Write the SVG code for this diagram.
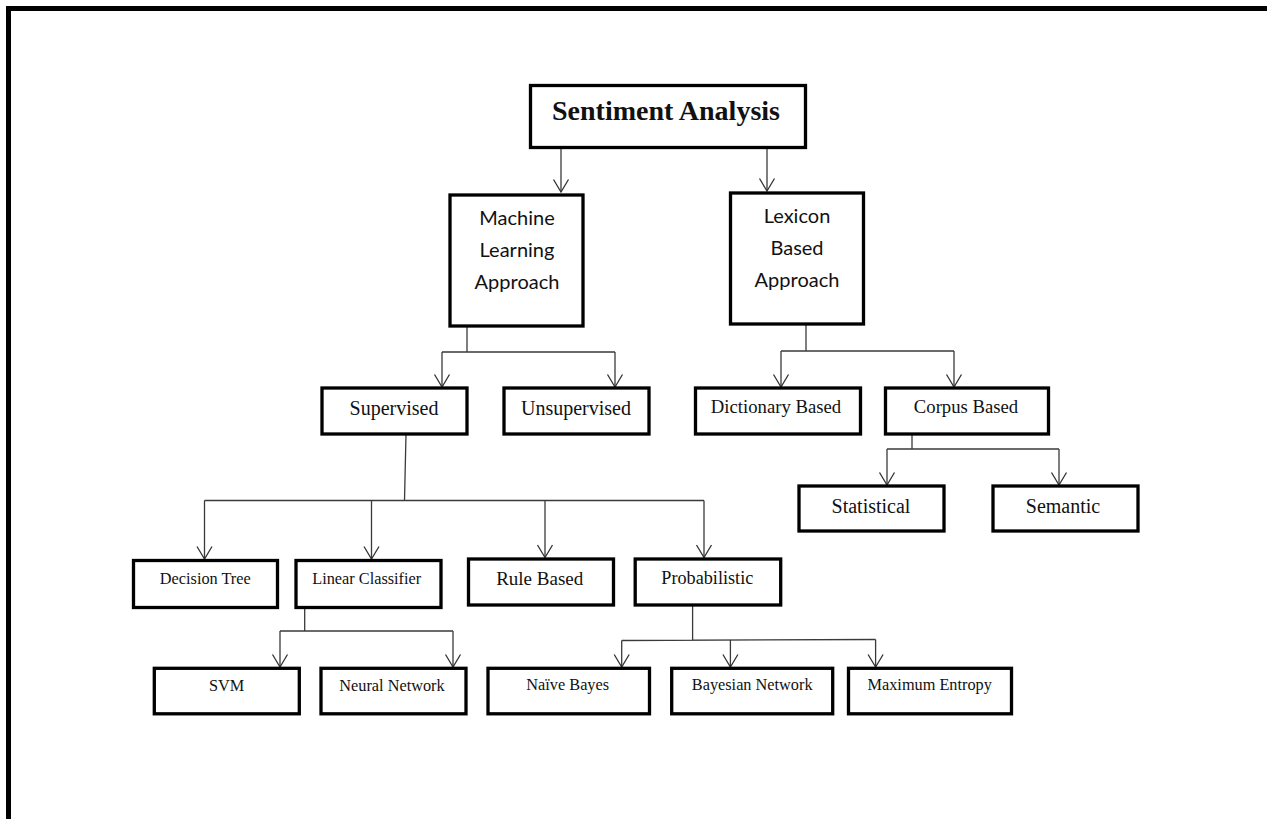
<svg xmlns="http://www.w3.org/2000/svg" width="1267" height="819" viewBox="0 0 1267 819">
<defs>
<marker id="arr" markerUnits="userSpaceOnUse" viewBox="-14 -10 16 20" refX="0" refY="0" markerWidth="16" markerHeight="20" orient="auto">
<path d="M -12.5 -7.5 L 0 0 L -12.5 7.5" fill="none" stroke="#333" stroke-width="1.3"/>
</marker>
<style>
.box{fill:#fff;stroke:#000;stroke-width:3.3}
.c{fill:none;stroke:#3a3a3a;stroke-width:1.3}
.a{fill:none;stroke:#3a3a3a;stroke-width:1.3;marker-end:url(#arr)}
.t{font-family:"Liberation Serif","Times New Roman",serif;fill:#111;text-anchor:middle}
.s{font-family:Lato,"Liberation Sans",sans-serif;fill:#111;text-anchor:middle;font-size:20px}
.l20{font-size:20px}
.l19{font-size:18.7px}
.l16{font-size:16.3px}
</style>
</defs>
<rect x="0" y="0" width="1267" height="819" fill="#fff"/>
<path d="M 8.5 819 V 8.5 H 1267" fill="none" stroke="#000" stroke-width="5"/>

<g id="connectors">
<path class="a" d="M 561 148 V 192"/>
<path class="a" d="M 767 148 V 191"/>
<path class="c" d="M 467 326 V 352 M 442 352 H 615"/>
<path class="a" d="M 442 352 V 387"/>
<path class="a" d="M 615 352 V 387"/>
<path class="c" d="M 806 324 V 351 M 781 351 H 954"/>
<path class="a" d="M 781 351 V 387"/>
<path class="a" d="M 954 351 V 387"/>
<path class="c" d="M 912 434 V 449 M 887 449 H 1059"/>
<path class="a" d="M 887 449 V 485"/>
<path class="a" d="M 1059 449 V 485"/>
<path class="c" d="M 406 434 L 404.5 500.5 M 204.5 500.5 H 704"/>
<path class="a" d="M 204.5 500.5 V 559"/>
<path class="a" d="M 371.5 500.5 V 559"/>
<path class="a" d="M 545 500.5 V 557.5"/>
<path class="a" d="M 704 500.5 V 557.5"/>
<path class="c" d="M 304.7 607 V 631 M 280 631 H 453"/>
<path class="a" d="M 280 631 V 667"/>
<path class="a" d="M 453 631 V 667"/>
<path class="c" d="M 692.6 606 V 640 M 621.7 640.5 L 875.6 639.5"/>
<path class="a" d="M 621.7 640.5 V 667"/>
<path class="a" d="M 730.4 640 V 667"/>
<path class="a" d="M 875.6 639.5 V 667"/>
</g>

<g id="sentiment-analysis">
<rect class="box" x="530.5" y="85.5" width="275" height="62"/>
<text class="t" x="666" y="120" font-size="28" font-weight="bold">Sentiment Analysis</text>
</g>
<g id="machine-learning">
<rect class="box" x="450" y="195" width="133" height="131"/>
<text class="s" x="517" y="225.3">Machine</text>
<text class="s" x="517" y="257">Learning</text>
<text class="s" x="517" y="288.7">Approach</text>
</g>
<g id="lexicon-based">
<rect class="box" x="730.5" y="193" width="133" height="131"/>
<text class="s" x="797" y="222.7">Lexicon</text>
<text class="s" x="797" y="254.7">Based</text>
<text class="s" x="797" y="286.7">Approach</text>
</g>
<g id="supervised">
<rect class="box" x="322" y="388" width="145" height="46"/>
<text class="t l20" x="394" y="415">Supervised</text>
</g>
<g id="unsupervised">
<rect class="box" x="504" y="388" width="145" height="46"/>
<text class="t l20" x="576" y="415">Unsupervised</text>
</g>
<g id="dictionary-based">
<rect class="box" x="695.5" y="388" width="165" height="46"/>
<text class="t l19" x="776" y="413">Dictionary Based</text>
</g>
<g id="corpus-based">
<rect class="box" x="885.5" y="388" width="163" height="46"/>
<text class="t l19" x="966" y="413">Corpus Based</text>
</g>
<g id="statistical">
<rect class="box" x="799" y="486" width="145" height="45"/>
<text class="t l20" x="871" y="513">Statistical</text>
</g>
<g id="semantic">
<rect class="box" x="993" y="486" width="145" height="45"/>
<text class="t l20" x="1063" y="513">Semantic</text>
</g>
<g id="decision-tree">
<rect class="box" x="133.5" y="560.5" width="144" height="47"/>
<text class="t l16" x="205.3" y="584">Decision Tree</text>
</g>
<g id="linear-classifier">
<rect class="box" x="296" y="560.5" width="145" height="47"/>
<text class="t l16" x="366.7" y="584">Linear Classifier</text>
</g>
<g id="rule-based">
<rect class="box" x="468.5" y="559" width="145" height="46"/>
<text class="t" x="539.7" y="584.7" font-size="19">Rule Based</text>
</g>
<g id="probabilistic">
<rect class="box" x="635.2" y="559" width="145.5" height="46"/>
<text class="t" x="707.3" y="583.5" font-size="18.2">Probabilistic</text>
</g>
<g id="svm">
<rect class="box" x="154.3" y="668.3" width="145" height="45.5"/>
<text class="t l16" x="226.7" y="691">SVM</text>
</g>
<g id="neural-network">
<rect class="box" x="321" y="668.3" width="145" height="45.5"/>
<text class="t l16" x="392" y="691">Neural Network</text>
</g>
<g id="naive-bayes">
<rect class="box" x="488" y="668.3" width="161.5" height="45.5"/>
<text class="t l16" x="567.7" y="690">Naïve Bayes</text>
</g>
<g id="bayesian-network">
<rect class="box" x="671.7" y="668.3" width="161" height="45.5"/>
<text class="t l16" x="752.2" y="690">Bayesian Network</text>
</g>
<g id="maximum-entropy">
<rect class="box" x="848.5" y="668.3" width="163" height="45.5"/>
<text class="t l16" x="929.7" y="690">Maximum Entropy</text>
</g>
</svg>
